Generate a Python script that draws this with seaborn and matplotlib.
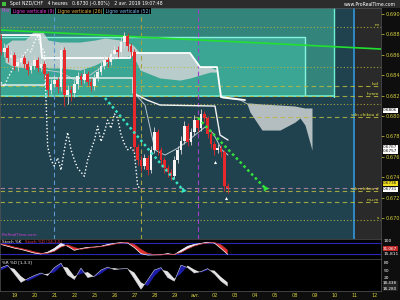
import matplotlib
matplotlib.use("Agg")
import numpy as np
import pandas as pd
import matplotlib.pyplot as plt
import seaborn as sns

sns.set_theme(style="dark")
plt.rcParams['font.family'] = ['DejaVu Sans']

# ---------------- data ----------------
candle_open = [0.6875,0.6863,0.6867,0.6857,0.6860,0.6849,0.6853,0.6857,0.6851,0.6845,
               0.6849,0.6855,0.6847,0.6851,0.6841,0.6826,0.6831,0.6835,0.6828,0.6865,
               0.6821,0.6826,0.6823,0.6831,0.6839,0.6835,0.6841,0.6833,0.6829,0.6837,
               0.6843,0.6849,0.6855,0.6853,0.6861,0.6865,0.6863,0.6873,0.6878,0.6869,
               0.6863,0.6770,0.6757,0.6751,0.6759,0.6747,0.6767,0.6784,0.6767,0.6757,
               0.6749,0.6745,0.6741,0.6757,0.6767,0.6776,0.6790,0.6775,0.6784,0.6796,
               0.6788,0.6802,0.6798,0.6782,0.6773,0.6767,0.6769,0.6765,0.6731]
candle_close = [0.6863,0.6867,0.6857,0.6860,0.6849,0.6853,0.6857,0.6851,0.6845,0.6849,
                0.6855,0.6847,0.6851,0.6841,0.6826,0.6831,0.6835,0.6828,0.6865,0.6821,
                0.6826,0.6823,0.6831,0.6839,0.6835,0.6841,0.6833,0.6829,0.6837,0.6843,
                0.6849,0.6855,0.6853,0.6861,0.6865,0.6863,0.6873,0.6878,0.6869,0.6863,
                0.6770,0.6757,0.6751,0.6759,0.6747,0.6767,0.6784,0.6767,0.6757,0.6749,
                0.6745,0.6741,0.6757,0.6767,0.6776,0.6790,0.6775,0.6784,0.6796,0.6788,
                0.6802,0.6798,0.6782,0.6773,0.6767,0.6769,0.6765,0.6731,0.6729]
candle_high = [0.6880,0.6872,0.6870,0.6865,0.6863,0.6858,0.6862,0.6860,0.6854,0.6853,
               0.6860,0.6858,0.6856,0.6854,0.6843,0.6836,0.6840,0.6838,0.6870,0.6868,
               0.6830,0.6829,0.6835,0.6843,0.6842,0.6846,0.6844,0.6837,0.6841,0.6847,
               0.6853,0.6860,0.6858,0.6866,0.6870,0.6869,0.6877,0.6882,0.6881,0.6872,
               0.6866,0.6773,0.6762,0.6763,0.6762,0.6771,0.6789,0.6787,0.6770,0.6760,
               0.6752,0.6748,0.6761,0.6771,0.6780,0.6795,0.6793,0.6788,0.6801,0.6799,
               0.6807,0.6805,0.6800,0.6785,0.6776,0.6773,0.6772,0.6767,0.6734]
candle_low = [0.6860,0.6858,0.6853,0.6852,0.6845,0.6844,0.6850,0.6847,0.6840,0.6842,
              0.6846,0.6843,0.6844,0.6836,0.6820,0.6822,0.6828,0.6823,0.6825,0.6810,
              0.6812,0.6815,0.6819,0.6827,0.6830,0.6832,0.6829,0.6825,0.6826,0.6834,
              0.6840,0.6846,0.6848,0.6850,0.6857,0.6858,0.6860,0.6867,0.6864,0.6858,
              0.6765,0.6752,0.6746,0.6748,0.6742,0.6744,0.6764,0.6762,0.6752,0.6744,
              0.6740,0.6737,0.6738,0.6754,0.6763,0.6773,0.6771,0.6772,0.6781,0.6784,
              0.6785,0.6794,0.6778,0.6769,0.6762,0.6764,0.6760,0.6727,0.6725]
first_candle_day = -0.7
candles_per_day = 6
chikou_shift = 26
vertical_line_periods = [9, 26, 52]
vertical_line_colors = ['#a040c8', '#a8a040', '#5a9ad0']

day_labels = ['19', '20', '21', '22', '25', '26', '27', '28', '29', 'avr.',
              '02', '03', '04', '05', '08', '09', '10', '11', '12']

# ichimoku cloud (day, top, bottom)
cloud_day = [-0.5, -0.15, 0.5, 0.9, 1.4, 1.65, 2.25, 3.25, 4.0, 4.5, 5.25, 5.9, 6.25, 7.25,
             8.25, 8.75, 9.25, 9.75, 10.1, 10.35, 11.25, 11.6, 11.75, 12.35, 13.25, 14.0,
             14.25, 14.5, 14.85]
cloud_top = [0.68696, 0.68745, 0.68745, 0.68823, 0.68823, 0.68745, 0.68725, 0.68725, 0.68745,
             0.68765, 0.68745, 0.68696, 0.68618, 0.68618, 0.68618, 0.68618, 0.68480, 0.68480,
             0.68451, 0.68186, 0.68167, 0.68128, 0.68128, 0.68118, 0.68108, 0.68098, 0.68088,
             0.68079, 0.68079]
cloud_bottom = [0.68529, 0.68490, 0.68471, 0.68500, 0.68490, 0.68471, 0.68471, 0.68451, 0.68500,
                0.68549, 0.68569, 0.68598, 0.68451, 0.68373, 0.68353, 0.68373, 0.68402, 0.68431,
                0.68431, 0.68177, 0.68157, 0.68118, 0.68039, 0.67863, 0.67863, 0.67941, 0.67981,
                0.67912, 0.67667]

kijun_day = [-0.75, 1.25, 1.35, 5.75, 5.9, 8.75, 9.25, 10.1, 10.3, 11.5]
kijun_val = [0.68794, 0.68794, 0.68569, 0.68569, 0.68618, 0.68618, 0.68480, 0.68480, 0.68186, 0.68157]
span_day = [-0.75, 1.5, 1.65, 5.9, 5.9, 6.6, 7.25, 10.0, 10.25, 10.65]
span_val = [0.68304, 0.68304, 0.68373, 0.68373, 0.68226, 0.68157, 0.68108, 0.68098, 0.67814, 0.67765]
tenkan_day = [-0.75, 0, 0.75, 1.5, 2.25, 3.0, 3.75, 4.5, 5.15, 5.65, 5.9, 6.05, 6.5, 7.0, 7.5,
              8.15, 8.5, 9.0, 9.5, 9.9, 10.35, 10.65]
tenkan_val = [0.68647, 0.68598, 0.68529, 0.68451, 0.68431, 0.68353, 0.68402, 0.68500, 0.68627,
              0.68696, 0.68667, 0.68206, 0.68108, 0.67667, 0.67618, 0.67687, 0.67736, 0.67814,
              0.67892, 0.67833, 0.67667, 0.67618]

trend_day = [-0.75, 18.3]
trend_val = [0.68843, 0.68657]
cyan_arrow_day = [4.5, 8.4]
cyan_arrow_val = [0.68177, 0.67275]
green_arrow_day = [9.15, 12.5]
green_arrow_val = [0.67981, 0.67295]
signal_day = [10.0, 10.55]
signal_val = [0.67549, 0.67197]

level_price = [0.68872, 0.68480, 0.68294, 0.68196, 0.68118, 0.67990, 0.67295, 0.67265, 0.67157, 0.66981]
level_dashed = [False, False, True, True, False, True, True, True, True, False]
level_label = ['m', '', 'b.d', 'h.mm', '', 'sdn chikou d', '', 'sdn chikou d', 'mu.m', 's']

teal_zone = dict(x0=-0.75, x1=15.95, y0=0.68186, y1=0.6910)
box_zone = dict(x0=-0.75, x1=14.5, y0=0.68206, y1=0.68774)
chart_end_day = 16.95

stoch_k = [72,62,52,45,35,25,20,30,50,78,62,40,50,56,58,62,72,78,82,80,55,22,14,15,16,22,16,40,62,72,78,84,80,50,18]
stoch_d = [75,68,58,50,42,32,24,24,35,58,70,55,46,52,57,60,66,74,80,82,72,45,24,16,15,18,18,28,48,64,74,80,83,70,40]
wpr_k = [60,70,35,0,15,28,38,28,60,78,30,12,58,20,25,50,62,52,55,56,15,-28,10,50,60,20,5,70,60,38,44,56,35,5,-15]
wpr_d = [50,62,55,25,5,18,32,35,40,65,60,25,35,42,22,35,55,58,53,55,40,0,-15,25,52,45,15,35,68,52,40,50,48,22,0]
osc_step = 2  # one oscillator reading every 2 candles

price_ticks = [0.670, 0.672, 0.674, 0.676, 0.678, 0.680, 0.682, 0.684, 0.686, 0.688, 0.690]

# ---------------- frames ----------------
n = len(candle_close)
cx = first_candle_day + np.arange(n) / candles_per_day
df = pd.DataFrame(dict(x=cx, o=candle_open, c=candle_close, h=candle_high, l=candle_low))
df['up'] = df.c >= df.o
osc_x = cx[::osc_step]

XL = (-0.75, 18.3)
W, H = 400, 300

def fx(px):
    return px / W

def fy(py):
    return 1 - py / H

fig = plt.figure(figsize=(4, 3), dpi=100, facecolor='#0e0e0e')
ax = fig.add_axes([0, fy(239), fx(381), (239 - 8) / H])
ax_st = fig.add_axes([0, fy(259), fx(381), 20 / H])
ax_w = fig.add_axes([0, fy(291), fx(381), 32 / H])

for a in (ax, ax_st, ax_w):
    a.set_xlim(*XL)
    for s in a.spines.values():
        s.set_color('#555555')
        s.set_linewidth(0.5)
    a.grid(False)

# main panel backgrounds
ax.set_facecolor('#2a2a2a')
ax.set_ylim(0.66795, 0.69059)
ax.axvspan(XL[0], chart_end_day, color='#20424f', lw=0, zorder=0)
ax.fill_between([teal_zone['x0'], teal_zone['x1']], teal_zone['y0'], teal_zone['y1'],
                color='#33857b', lw=0, zorder=0.5)
ax.fill_between([box_zone['x0'], box_zone['x1']], box_zone['y0'], box_zone['y1'],
                color='#3ca694', lw=0, zorder=0.6)
ax.plot([box_zone['x0'], box_zone['x1'], box_zone['x1']],
        [box_zone['y1'], box_zone['y1'], box_zone['y0']], color='#86f3dc', lw=1.0, zorder=0.7)
ax.plot([teal_zone['x0'], teal_zone['x1']], [teal_zone['y0'] + 0.0001] * 2,
        color='#6ff0d6', lw=1.2, zorder=0.7)
ax.axvline(teal_zone['x1'], ymin=(teal_zone['y0'] - 0.66795) / (0.69059 - 0.66795), ymax=1,
           color='#6ff0d6', lw=1.0, zorder=0.7)
ax.axvline(chart_end_day, color='#2f8fd0', lw=1.3, zorder=0.7)

# cloud
ax.fill_between(cloud_day, cloud_bottom, cloud_top, color='#cfd5d5', alpha=0.85, lw=0, zorder=1)

# horizontal levels
for p, d, lab in zip(level_price, level_dashed, level_label):
    col = '#c089a8' if abs(p - 0.67295) < 1e-6 else '#b8b840'
    ax.axhline(p, color=col, lw=0.8, ls=(0, (4, 3)) if d else (0, (1, 2)), alpha=0.85, zorder=1.2)
    if lab:
        ax.text(18.2, p + 0.00005, lab, color='#e0e040', fontsize=3.2, ha='right', va='bottom',
                zorder=5)

# vertical period lines
last_x = cx[-1]
for per, col in zip(vertical_line_periods, vertical_line_colors):
    ax.axvline(last_x - per / candles_per_day, color=col, lw=0.8, ls=(0, (4, 3)), zorder=1.3)

# trend line
sns.lineplot(x=trend_day, y=trend_val, ax=ax, color='#22e030', lw=1.2, zorder=2)

# ichimoku lines
sns.lineplot(x=kijun_day, y=kijun_val, ax=ax, color='white', lw=1.3, sort=False, estimator=None, zorder=2.5)
sns.lineplot(x=span_day, y=span_val, ax=ax, color='#f2f2f2', lw=1.0, sort=False, estimator=None, zorder=2.5)
sns.lineplot(x=tenkan_day, y=tenkan_val, ax=ax, color='#b9c6ce', lw=0.7, sort=False, estimator=None, zorder=2.4)

# chikou: closes shifted back
chik = df.iloc[chikou_shift:]
sns.lineplot(x=chik.x - chikou_shift / candles_per_day, y=chik.c, ax=ax, color='white', lw=1.0,
             ls=(0, (1, 1.5)), sort=False, estimator=None, zorder=2.6)

# candles
wick_col = np.where(df.up, '#d8d8d8', '#e02a2a')
body_col = np.where(df.up, '#f4f4f4', '#e8282a')
ax.vlines(df.x, df.l, df.h, colors=wick_col, lw=0.6, zorder=3)
ax.bar(df.x, np.maximum((df.c - df.o).abs(), 0.00006), bottom=np.minimum(df.o, df.c),
       width=0.12, color=body_col, lw=0, zorder=3.1)

# dotted trend arrows
sns.lineplot(x=cyan_arrow_day, y=cyan_arrow_val, ax=ax, color='#35e6c4', lw=1.8, ls=(0, (1, 1.2)), zorder=4)
sns.lineplot(x=green_arrow_day, y=green_arrow_val, ax=ax, color='#33e33a', lw=1.8, ls=(0, (1, 1.2)), zorder=4)
ax.scatter([cyan_arrow_day[-1]], [cyan_arrow_val[-1]], marker=(3, 0, 20), s=22, color='#35e6c4', zorder=4, lw=0)
ax.scatter([green_arrow_day[-1]], [green_arrow_val[-1]], marker=(3, 0, 30), s=26, color='#33e33a', zorder=4, lw=0)
ax.scatter(signal_day, signal_val, marker='^', s=5, color='white', zorder=4, lw=0)

# y ticks
ax.yaxis.tick_right()
ax.set_yticks(price_ticks)
ax.set_yticklabels([f'{t:.3f}' for t in price_ticks])
ax.tick_params(axis='y', colors='#d6d040', labelsize=3.6, length=2, width=0.5, pad=1.5)
ax.tick_params(axis='x', bottom=False, labelbottom=False)
for t in ax.get_yticklabels():
    t.set_color('#d6d040')

# right value boxes
def vbox(py, txt, fc='white', tc='#111111'):
    fig.text(fx(383), fy(py), txt, fontsize=3.0, color=tc, ha='left', va='center',
             bbox=dict(boxstyle='square,pad=0.12', fc=fc, ec='none'))

vbox(110, '0.6806')
vbox(147, '0.6767')
vbox(151.5, '0.6757')
vbox(183, '0.6736', fc='#f0e020')
vbox(189, '0.6731')

# stochastic
ax_st.set_facecolor('black')
ax_st.set_ylim(-7.3, 101.8)
ax_st.axhline(80, color='#2828b8', lw=0.8)
ax_st.axhline(20, color='#2828b8', lw=0.8)
ax_st.fill_between(osc_x, stoch_k, stoch_d, where=np.array(stoch_k) >= np.array(stoch_d),
                   interpolate=True, color='#e8e8f8', lw=0)
ax_st.fill_between(osc_x, stoch_k, stoch_d, where=np.array(stoch_k) < np.array(stoch_d),
                   interpolate=True, color='#e23030', lw=0)
sns.lineplot(x=osc_x, y=stoch_k, ax=ax_st, color='#ffffff', lw=0.5)
sns.lineplot(x=osc_x, y=stoch_d, ax=ax_st, color='#d03030', lw=0.5)
ax_st.set_xticks([]); ax_st.set_yticks([])
ax_st.set_xlabel(''); ax_st.set_ylabel('')

# williams %R
ax_w.set_facecolor('black')
ax_w.set_ylim(-35, 95)
ax_w.fill_between(osc_x, wpr_k, wpr_d, where=np.array(wpr_k) >= np.array(wpr_d),
                  interpolate=True, color='#1c1ca8', lw=0)
ax_w.fill_between(osc_x, wpr_k, wpr_d, where=np.array(wpr_k) < np.array(wpr_d),
                  interpolate=True, color='#e4e4e4', lw=0)
sns.lineplot(x=osc_x, y=wpr_k, ax=ax_w, color='#d0d0e0', lw=0.4)
ax_w.set_yticks([])
ax_w.set_xticks(np.arange(len(day_labels)))
ax_w.set_xticklabels(day_labels)
ax_w.tick_params(axis='x', colors='#d6d040', labelsize=3.6, length=0, pad=1.5)
for t in ax_w.get_xticklabels():
    t.set_color('#d6d040')
ax_w.set_xlabel(''); ax_w.set_ylabel('')
ax.set_xlabel(''); ax.set_ylabel('')

# header
fig.patches.append(plt.Rectangle((0, fy(8)), 1, 8 / H, transform=fig.transFigure,
                                 facecolor='#2c2c2c', edgecolor='none', zorder=0))
fig.patches.append(plt.Rectangle((fx(2), fy(6)), 4 / W, 4 / H, transform=fig.transFigure,
                                 facecolor='#40c040', edgecolor='none', zorder=1))
fig.text(fx(10), fy(4), 'Spot NZD/CHF   4 heures   0.6730 (-0.80%)   2 avr. 2019 19:07:48',
         color='white', fontsize=3.3, va='center', ha='left')
fig.text(fx(396), fy(4), 'www.ProRealTime.com', color='white', fontsize=3.3, va='center', ha='right')

hx = fx(1)
parts = [('Prix', '#e040e0', 'none'), (' Ligne verticale (9)', '#e040e0', 'black'),
         (' Ligne verticale (26)', '#e0b040', 'black'), (' Ligne verticale (52)', '#70b8e8', 'black')]
fig.canvas.draw()
r = fig.canvas.get_renderer()
for txt, col, bg in parts:
    t = fig.text(hx, fy(11), txt, color=col, fontsize=3.3, va='center', ha='left',
                 bbox=dict(boxstyle='square,pad=0.1', fc=bg, ec='none') if bg != 'none' else None)
    bb = t.get_window_extent(renderer=r)
    hx += bb.width / W + 0.004

fig.text(fx(2), fy(235), 'ProRealTime.com', color='#d040d0', fontsize=3.0, va='center', ha='left')

# oscillator titles and values
fig.text(fx(2), fy(242), 'Stoch %K', color='white', fontsize=3.0, va='center', ha='left')
fig.text(fx(25), fy(242), 'Stoch %D (14,3,5)', color='#e04040', fontsize=3.0, va='center', ha='left')
fig.text(fx(2), fy(262), '%R %D [1,3,3]', color='white', fontsize=3.0, va='center', ha='left')
fig.text(fx(384), fy(241), '100', color='white', fontsize=3.2, va='center')
vbox(248.5, '31.067', fc='#c02828', tc='white')
fig.text(fx(384), fy(254), '15.811', color='white', fontsize=3.2, va='center')
fig.text(fx(384), fy(263), '80', color='white', fontsize=3.2, va='center')
fig.text(fx(384), fy(271), '50', color='white', fontsize=3.2, va='center')
fig.text(fx(384), fy(278), '20', color='white', fontsize=3.2, va='center')
vbox(283.5, '18.438', fc='#222222', tc='white')
vbox(288.5, '18.280', fc='#222222', tc='white')

fig.savefig('out.png', dpi=100, facecolor=fig.get_facecolor())
